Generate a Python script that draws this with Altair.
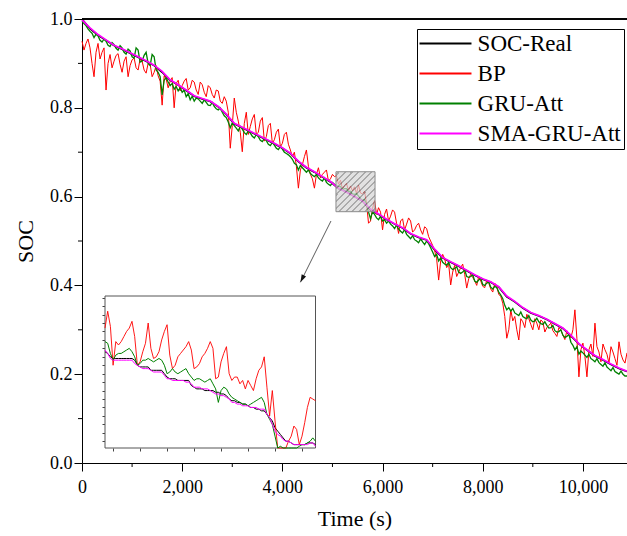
import altair as alt
import pandas as pd

# ---------------- data ----------------
series_names = ["SOC-Real", "BP", "GRU-Att", "SMA-GRU-Att"]
series_colors = ["#000000", "#ff0000", "#008000", "#ff00ff"]

real_time = list(range(0, 10881, 160))
soc_real = [1.000, 0.978, 0.963, 0.952, 0.940, 0.932, 0.923, 0.914, 0.905, 0.895,
            0.880, 0.862, 0.851, 0.839, 0.826, 0.820, 0.814, 0.802, 0.785, 0.764,
            0.755, 0.746, 0.737, 0.728, 0.719, 0.709, 0.697, 0.679, 0.665, 0.655,
            0.644, 0.633, 0.618, 0.611, 0.600, 0.590, 0.569, 0.560, 0.548, 0.538,
            0.529, 0.516, 0.508, 0.502, 0.480, 0.462, 0.452, 0.443, 0.433, 0.423,
            0.414, 0.407, 0.396, 0.374, 0.363, 0.349, 0.338, 0.331, 0.323, 0.313,
            0.303, 0.286, 0.268, 0.254, 0.241, 0.232, 0.222, 0.213, 0.206]
soc_sma_gru_att = [0.998, 0.980, 0.965, 0.953, 0.941, 0.933, 0.924, 0.915, 0.906, 0.896,
                   0.882, 0.863, 0.852, 0.840, 0.827, 0.821, 0.815, 0.803, 0.786, 0.765,
                   0.756, 0.747, 0.738, 0.729, 0.720, 0.710, 0.698, 0.680, 0.666, 0.656,
                   0.645, 0.634, 0.619, 0.610, 0.600, 0.590, 0.572, 0.561, 0.549, 0.539,
                   0.530, 0.517, 0.509, 0.503, 0.482, 0.463, 0.453, 0.444, 0.434, 0.424,
                   0.415, 0.408, 0.397, 0.376, 0.364, 0.350, 0.339, 0.332, 0.324, 0.314,
                   0.304, 0.288, 0.269, 0.255, 0.242, 0.233, 0.223, 0.214, 0.207]

noisy_time = list(range(0, 10881, 40))
soc_bp = [0.950, 0.930, 0.945, 0.955, 0.935, 0.900, 0.870, 0.925, 0.945, 0.910,
          0.925, 0.935, 0.840, 0.900, 0.920, 0.890, 0.905, 0.918, 0.922, 0.898,
          0.880, 0.905, 0.915, 0.870, 0.895, 0.908, 0.912, 0.890, 0.885, 0.910,
          0.905, 0.885, 0.878, 0.900, 0.898, 0.870, 0.880, 0.895, 0.872, 0.860,
          0.806, 0.872, 0.865, 0.845, 0.860, 0.868, 0.800, 0.855, 0.862, 0.838,
          0.850, 0.860, 0.866, 0.840, 0.845, 0.862, 0.858, 0.840, 0.830, 0.858,
          0.852, 0.835, 0.825, 0.850, 0.845, 0.830, 0.822, 0.840, 0.838, 0.815,
          0.810, 0.825, 0.815, 0.790, 0.709, 0.760, 0.822, 0.790, 0.770, 0.745,
          0.701, 0.765, 0.790, 0.740, 0.758, 0.775, 0.785, 0.740, 0.745, 0.770,
          0.778, 0.725, 0.735, 0.760, 0.765, 0.720, 0.728, 0.745, 0.752, 0.712,
          0.720, 0.740, 0.745, 0.718, 0.705, 0.690, 0.700, 0.668, 0.619, 0.660,
          0.672, 0.690, 0.705, 0.668, 0.650, 0.640, 0.619, 0.650, 0.665, 0.642,
          0.650, 0.655, 0.660, 0.635, 0.640, 0.650, 0.645, 0.647, 0.628, 0.637,
          0.617, 0.625, 0.630, 0.613, 0.624, 0.613, 0.622, 0.607, 0.626, 0.608,
          0.606, 0.612, 0.585, 0.540, 0.545, 0.573, 0.592, 0.560, 0.575, 0.565,
          0.525, 0.560, 0.572, 0.545, 0.556, 0.570, 0.565, 0.540, 0.517, 0.545,
          0.550, 0.525, 0.538, 0.552, 0.545, 0.520, 0.525, 0.535, 0.540, 0.525,
          0.515, 0.532, 0.528, 0.510, 0.500, 0.490, 0.478, 0.460, 0.412, 0.455,
          0.470, 0.460, 0.440, 0.448, 0.401, 0.430, 0.445, 0.420, 0.430, 0.440,
          0.448, 0.425, 0.394, 0.415, 0.425, 0.418, 0.410, 0.400, 0.420, 0.410,
          0.398, 0.395, 0.412, 0.405, 0.392, 0.385, 0.405, 0.398, 0.380, 0.375,
          0.360, 0.330, 0.281, 0.300, 0.345, 0.320, 0.330, 0.300, 0.277, 0.325,
          0.318, 0.305, 0.335, 0.325, 0.312, 0.300, 0.325, 0.315, 0.300, 0.322,
          0.318, 0.295, 0.305, 0.310, 0.315, 0.298, 0.292, 0.285, 0.305, 0.300,
          0.288, 0.278, 0.298, 0.290, 0.282, 0.300, 0.345, 0.280, 0.194, 0.255,
          0.270, 0.240, 0.194, 0.255, 0.268, 0.240, 0.315, 0.262, 0.250, 0.228,
          0.268, 0.255, 0.245, 0.225, 0.262, 0.250, 0.235, 0.220, 0.273, 0.245,
          0.232, 0.225, 0.248]
soc_gru_att = [0.995, 0.990, 0.985, 0.978, 0.972, 0.968, 0.958, 0.966, 0.962, 0.952,
               0.948, 0.955, 0.950, 0.941, 0.938, 0.947, 0.942, 0.934, 0.930, 0.940,
               0.935, 0.925, 0.921, 0.932, 0.928, 0.915, 0.912, 0.935, 0.930, 0.903,
               0.905, 0.918, 0.925, 0.900, 0.895, 0.920, 0.915, 0.885, 0.880, 0.870,
               0.829, 0.862, 0.868, 0.858, 0.850, 0.855, 0.842, 0.848, 0.838, 0.845,
               0.835, 0.840, 0.825, 0.832, 0.818, 0.826, 0.815, 0.822, 0.820, 0.815,
               0.810, 0.818, 0.812, 0.806, 0.805, 0.812, 0.803, 0.798, 0.795, 0.800,
               0.790, 0.782, 0.778, 0.768, 0.755, 0.766, 0.760, 0.754, 0.748, 0.758,
               0.752, 0.744, 0.740, 0.748, 0.743, 0.736, 0.732, 0.740, 0.735, 0.727,
               0.724, 0.731, 0.726, 0.718, 0.715, 0.722, 0.716, 0.709, 0.706, 0.713,
               0.707, 0.700, 0.697, 0.694, 0.690, 0.684, 0.675, 0.672, 0.660, 0.670,
               0.665, 0.660, 0.655, 0.660, 0.652, 0.648, 0.645, 0.650, 0.642, 0.638,
               0.635, 0.642, 0.632, 0.628, 0.625, 0.632, 0.628, 0.625, 0.622, 0.623,
               0.616, 0.618, 0.618, 0.611, 0.612, 0.606, 0.605, 0.607, 0.601, 0.595,
               0.591, 0.593, 0.583, 0.565, 0.550, 0.566, 0.560, 0.552, 0.548, 0.556,
               0.545, 0.548, 0.540, 0.545, 0.538, 0.534, 0.528, 0.536, 0.527, 0.522,
               0.518, 0.526, 0.515, 0.510, 0.505, 0.512, 0.503, 0.500, 0.496, 0.505,
               0.498, 0.492, 0.500, 0.494, 0.485, 0.475, 0.465, 0.470, 0.455, 0.462,
               0.452, 0.448, 0.445, 0.452, 0.440, 0.436, 0.438, 0.442, 0.430, 0.427,
               0.430, 0.435, 0.420, 0.418, 0.420, 0.424, 0.410, 0.407, 0.412, 0.416,
               0.402, 0.400, 0.405, 0.408, 0.396, 0.392, 0.398, 0.395, 0.385, 0.378,
               0.370, 0.355, 0.345, 0.350, 0.342, 0.348, 0.338, 0.335, 0.332, 0.340,
               0.330, 0.327, 0.325, 0.332, 0.322, 0.318, 0.320, 0.326, 0.318, 0.314,
               0.312, 0.318, 0.310, 0.304, 0.305, 0.310, 0.298, 0.295, 0.296, 0.300,
               0.288, 0.283, 0.285, 0.290, 0.272, 0.265, 0.255, 0.262, 0.245, 0.252,
               0.248, 0.243, 0.238, 0.245, 0.235, 0.232, 0.228, 0.235, 0.226, 0.222,
               0.218, 0.226, 0.216, 0.212, 0.208, 0.215, 0.206, 0.203, 0.200, 0.207,
               0.200, 0.196, 0.196]

x_ticks = [0, 2000, 4000, 6000, 8000, 10000]
x_minor_ticks = [1000, 3000, 5000, 7000, 9000]
y_ticks = [0.0, 0.2, 0.4, 0.6, 0.8, 1.0]
y_minor_ticks = [0.1, 0.3, 0.5, 0.7, 0.9]

# zoomed window (hatched box) and inset data
zoom_box_time = [5070, 5850]
zoom_box_soc = [0.566, 0.656]
inset_time = list(range(5070, 5851, 10))
inset_real = [0.623, 0.622, 0.620, 0.619, 0.619, 0.619, 0.619, 0.619, 0.619, 0.619,
              0.619, 0.618, 0.615, 0.614, 0.614, 0.614, 0.614, 0.612, 0.612, 0.612,
              0.612, 0.612, 0.610, 0.608, 0.607, 0.607, 0.607, 0.606, 0.606, 0.606,
              0.606, 0.606, 0.603, 0.602, 0.601, 0.601, 0.601, 0.600, 0.600, 0.600,
              0.600, 0.599, 0.599, 0.598, 0.598, 0.597, 0.595, 0.594, 0.594, 0.593,
              0.593, 0.592, 0.592, 0.591, 0.590, 0.590, 0.589, 0.589, 0.588, 0.588,
              0.586, 0.584, 0.582, 0.578, 0.576, 0.574, 0.572, 0.570, 0.570, 0.569,
              0.568, 0.568, 0.568, 0.568, 0.568, 0.569, 0.569, 0.569, 0.568]
inset_bp = [0.637, 0.647, 0.638, 0.615, 0.629, 0.627, 0.629, 0.632, 0.635, 0.637,
            0.641, 0.632, 0.615, 0.617, 0.623, 0.628, 0.640, 0.625, 0.619, 0.620,
            0.623, 0.630, 0.635, 0.639, 0.621, 0.613, 0.615, 0.620, 0.622, 0.624,
            0.626, 0.629, 0.624, 0.613, 0.614, 0.616, 0.620, 0.622, 0.625, 0.629,
            0.625, 0.607, 0.608, 0.617, 0.622, 0.626, 0.610, 0.606, 0.608, 0.608,
            0.604, 0.606, 0.601, 0.606, 0.603, 0.600, 0.607, 0.612, 0.614, 0.620,
            0.602, 0.585, 0.600, 0.582, 0.548, 0.540, 0.552, 0.560, 0.570, 0.573,
            0.579, 0.577, 0.568, 0.573, 0.581, 0.590, 0.596, 0.595, 0.594]
inset_gru = [0.629, 0.628, 0.622, 0.618, 0.621, 0.622, 0.622, 0.623, 0.624, 0.625,
             0.623, 0.620, 0.615, 0.616, 0.618, 0.618, 0.619, 0.618, 0.617, 0.618,
             0.619, 0.618, 0.615, 0.610, 0.611, 0.613, 0.611, 0.610, 0.611, 0.612,
             0.613, 0.610, 0.608, 0.606, 0.607, 0.607, 0.606, 0.605, 0.606, 0.607,
             0.604, 0.601, 0.593, 0.600, 0.602, 0.601, 0.598, 0.596, 0.595, 0.594,
             0.593, 0.592, 0.592, 0.591, 0.592, 0.593, 0.594, 0.595, 0.596, 0.593,
             0.586, 0.583, 0.580, 0.573, 0.565, 0.567, 0.565, 0.566, 0.565, 0.565,
             0.566, 0.566, 0.567, 0.568, 0.568, 0.569, 0.570, 0.572, 0.570]
inset_sma = [0.624, 0.622, 0.619, 0.618, 0.618, 0.618, 0.618, 0.618, 0.618, 0.618,
             0.618, 0.616, 0.615, 0.614, 0.613, 0.613, 0.613, 0.612, 0.611, 0.611,
             0.611, 0.611, 0.609, 0.607, 0.607, 0.606, 0.606, 0.606, 0.606, 0.606,
             0.605, 0.605, 0.604, 0.602, 0.602, 0.602, 0.601, 0.601, 0.601, 0.600,
             0.599, 0.598, 0.598, 0.597, 0.597, 0.596, 0.595, 0.593, 0.593, 0.592,
             0.592, 0.591, 0.591, 0.591, 0.590, 0.590, 0.590, 0.589, 0.589, 0.589,
             0.586, 0.584, 0.580, 0.576, 0.574, 0.573, 0.571, 0.570, 0.570, 0.569,
             0.568, 0.568, 0.568, 0.568, 0.568, 0.568, 0.569, 0.569, 0.567]
inset_x_ticks = [5100, 5200, 5300, 5400, 5500, 5600, 5700, 5800]
inset_y_ticks = [0.570, 0.575, 0.580, 0.585, 0.590, 0.595, 0.600, 0.605, 0.610,
                 0.615, 0.620, 0.625, 0.630, 0.635, 0.640, 0.645, 0.650, 0.655]

# arrow from zoom box to inset (data coordinates)
arrow_time = [4970, 4360]
arrow_soc = [0.545, 0.407]

# ---------------- styling ----------------
FONT = "Liberation Serif"
W, H = 545, 444

x_scale = alt.Scale(domain=[0, 10880], nice=False, zero=False)
y_scale = alt.Scale(domain=[0, 1], nice=False, zero=False)

x_axis = alt.Axis(values=x_ticks, format=",d", title="Time (s)", grid=False,
                  labelFont=FONT, labelFontSize=18, labelColor="black", labelFlush=False,
                  labelPadding=7, tickSize=8, tickColor="black", domainColor="black",
                  titleFont=FONT, titleFontSize=22, titleFontWeight="normal",
                  titleColor="black", titlePadding=12)
y_axis = alt.Axis(values=y_ticks, format=".1f", title="SOC", grid=False,
                  labelFont=FONT, labelFontSize=18, labelColor="black", labelFlush=False,
                  labelPadding=2, tickSize=8, tickColor="black", domainColor="black",
                  titleFont=FONT, titleFontSize=22, titleFontWeight="normal",
                  titleColor="black", titlePadding=12)


def mx(field="t"):
    return alt.X(f"{field}:Q", scale=x_scale, axis=x_axis)


def my(field="soc"):
    return alt.Y(f"{field}:Q", scale=y_scale, axis=y_axis)


color = alt.Color(
    "series:N",
    scale=alt.Scale(domain=series_names, range=series_colors),
    legend=alt.Legend(title=None, orient="none", legendX=335, legendY=10,
                      symbolType="M-5,0H5", symbolSize=108, symbolStrokeWidth=2,
                      symbolOffset=14, labelOffset=20.6,
                      labelFont=FONT, labelFontSize=23, labelColor="black",
                      labelLimit=300, rowPadding=6, padding=3,
                      fillColor="white", strokeColor="black"),
)

df_real = pd.DataFrame({"t": real_time, "soc": soc_real, "series": "SOC-Real"})
df_bp = pd.DataFrame({"t": noisy_time, "soc": soc_bp, "series": "BP"})
df_gru = pd.DataFrame({"t": noisy_time, "soc": soc_gru_att, "series": "GRU-Att"})
df_sma = pd.DataFrame({"t": real_time, "soc": soc_sma_gru_att, "series": "SMA-GRU-Att"})

main_lines = [
    alt.Chart(df).mark_line(strokeWidth=w).encode(x=mx(), y=my(), color=color)
    for df, w in [(df_real, 1.6), (df_bp, 1.0), (df_gru, 1.3), (df_sma, 1.7)]
]

df_xminor = pd.DataFrame({"t": x_minor_ticks})
x_minor = alt.Chart(df_xminor).mark_rule(color="black", strokeWidth=1).encode(
    x=mx(), y=alt.value(H), y2=alt.value(H + 4))
df_yminor = pd.DataFrame({"soc": y_minor_ticks})
y_minor = alt.Chart(df_yminor).mark_rule(color="black", strokeWidth=1).encode(
    y=my(), x=alt.value(-4), x2=alt.value(0))

top_border = alt.Chart(df_xminor).mark_rule(color="black", strokeWidth=1).encode(
    x=alt.value(0), x2=alt.value(W), y=alt.value(0))

df_box = pd.DataFrame({"t0": [zoom_box_time[0]], "t1": [zoom_box_time[1]],
                       "s0": [zoom_box_soc[0]], "s1": [zoom_box_soc[1]]})

hatch_bg, hatch_line = "#d6d6d6", "#8a8a8a"
n_stripes = 12
stops = [alt.GradientStop(color=hatch_bg, offset=0)]
for k in range(n_stripes):
    c = (k + 0.5) / n_stripes
    stops += [alt.GradientStop(color=hatch_bg, offset=c - 0.013),
              alt.GradientStop(color=hatch_line, offset=c - 0.013),
              alt.GradientStop(color=hatch_line, offset=c + 0.013),
              alt.GradientStop(color=hatch_bg, offset=c + 0.013)]
stops.append(alt.GradientStop(color=hatch_bg, offset=1))
hatch = alt.LinearGradient(gradient="linear", stops=stops, x1=0, y1=0, x2=1, y2=1)

zoom_box = alt.Chart(df_box).mark_rect(fill=hatch, fillOpacity=0.72, stroke="#8c8c8c",
                                       strokeWidth=1).encode(
    x=mx("t0"), x2="t1", y=my("s0"), y2="s1")

df_arrow = pd.DataFrame({"t": [arrow_time[0]], "soc": [arrow_soc[0]],
                         "t2": [arrow_time[1]], "soc2": [arrow_soc[1]]})
arrow_line = alt.Chart(df_arrow).mark_rule(color="#333333", strokeWidth=0.8).encode(
    x=mx(), y=my(), x2="t2", y2="soc2")
arrow_head = alt.Chart(df_arrow).mark_point(
    shape="M0,0L0.7,2.2L-0.7,2.2Z", angle=207, size=49, filled=True,
    color="#111111", opacity=1).encode(x=mx("t2"), y=my("soc2"))

main = alt.layer(*main_lines, zoom_box, arrow_line, arrow_head, top_border,
                 x_minor, y_minor)

# ---------------- inset ----------------
ix_scale = alt.Scale(domain=zoom_box_time, range=[23, 233.5], nice=False, zero=False,
                     clamp=True)
iy_scale = alt.Scale(domain=zoom_box_soc, range=[429, 277], nice=False, zero=False,
                     clamp=True)
ix_axis = alt.Axis(orient="bottom", offset=-15, values=inset_x_ticks, labels=False,
                   tickSize=3, tickColor="#444444", domain=False, grid=False, title=None)
iy_axis = alt.Axis(orient="left", offset=-23, values=inset_y_ticks, labels=False,
                   tickSize=3, tickColor="#444444", domain=False, grid=False, title=None)


def ix(field="t"):
    return alt.X(f"{field}:Q", scale=ix_scale, axis=ix_axis)


def iy(field="soc"):
    return alt.Y(f"{field}:Q", scale=iy_scale, axis=iy_axis)


frame = alt.Chart(df_box).mark_rect(fill="white", stroke="#555555", strokeWidth=1).encode(
    x=ix("t0"), x2="t1", y=iy("s0"), y2="s1")

inset_lines = []
for vals, col, w in [(inset_real, "#000000", 1.0), (inset_bp, "#ff0000", 0.9),
                     (inset_gru, "#008000", 1.0), (inset_sma, "#ff00ff", 1.0)]:
    d = pd.DataFrame({"t": inset_time, "soc": vals})
    inset_lines.append(alt.Chart(d).mark_line(color=col, strokeWidth=w).encode(
        x=ix(), y=iy()))

inset = alt.layer(frame, *inset_lines)

chart = alt.layer(main, inset).resolve_scale(x="independent", y="independent").properties(
    width=W, height=H,
    padding={"left": 82, "top": 19, "right": 0, "bottom": 73},
    autosize=alt.AutoSizeParams(type="none"),
).configure(font=FONT).configure_view(stroke=None)

chart.save("out.html", embed_options={"renderer": "svg", "actions": False})
